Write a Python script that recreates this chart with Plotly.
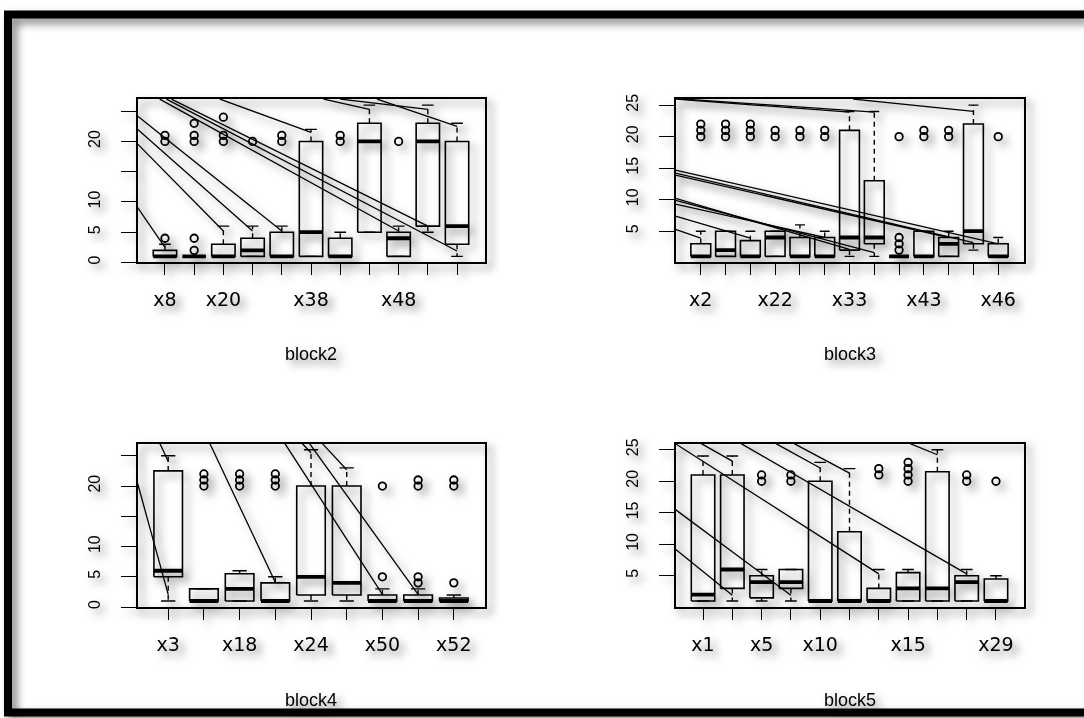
import plotly.graph_objects as go

# ---------------- block2 ----------------
b2_labels = ["x8", "", "x20", "", "", "x38", "", "", "x48", "", ""]
b2_lo  = [1, 1, 1, 1, 1, 1, 1, 5, 1, 5, 1]
b2_q1  = [1, 1, 1, 1, 1, 1, 1, 5, 1, 6, 3]
b2_med = [1, 1, 1, 2, 1, 5, 1, 20, 4, 20, 6]
b2_q3  = [2, 1, 3, 4, 5, 20, 4, 23, 5, 23, 20]
b2_hi  = [3, 1, 6, 6, 6, 22, 5, 26, 6, 26, 23]
b2_out = [[4, 20, 21], [2, 4, 20, 21, 23], [20, 21, 24], [20], [20, 21],
          [], [20, 21], [], [20], [], []]
b2_sx0 = [0.06, 0.06, 0.06, 0.06, 0.82, 1.05, 1.22, 2.88, 6.43, 7.0, 8.26]
b2_sy0 = [9.1, 19.6, 22.0, 24.2, 27.0, 27.0, 27.0, 27.0, 27.0, 27.0, 27.0]
b2_sx1 = [1.0, 3.0, 4.0, 5.0, 9.0, 11.0, 10.0, 6.0, 8.0, 10.0, 11.0]
b2_sy1 = [2.5, 5.2, 5.2, 5.2, 5.2, 1.9, 6.0, 21.5, 25.3, 25.3, 22.5]

# ---------------- block3 ----------------
b3_labels = ["x2", "", "", "x22", "", "", "x33", "", "", "x43", "", "", "x46"]
b3_lo  = [1, 1, 1, 1, 1, 1, 1, 1, 1, 1, 1, 2, 1]
b3_q1  = [1, 1, 1, 1, 1, 1, 2, 3, 1, 1, 1, 3, 1]
b3_med = [1, 2, 1, 4, 1, 1, 4, 4, 1, 1, 3, 5, 1]
b3_q3  = [3, 5, 3.5, 5, 4, 4, 21, 13, 1, 5, 4, 22, 3]
b3_hi  = [5, 5, 5, 5, 6, 5, 24, 24, 1, 5, 5, 25, 4]
b3_out = [[20, 21, 22], [20, 21, 22], [20, 21, 22], [20, 21], [20, 21], [20, 21],
          [], [], [2, 3, 4, 20], [20, 21], [20, 21], [], [20]]
b3_sx0 = [-0.02, -0.02, -0.02, -0.02, -0.02, -0.02, -0.02, -0.02, -0.02, 0.3, 7.15]
b3_sy0 = [5.3, 7.4, 9.3, 10.2, 9.9, 14.7, 14.2, 13.9, 25.96, 25.96, 25.96]
b3_sx1 = [1.0, 3.0, 6.0, 7.0, 8.0, 13.0, 12.0, 11.0, 7.0, 8.0, 12.0]
b3_sy1 = [3.9, 3.9, 4.0, 2.1, 1.6, 3.0, 3.2, 4.0, 23.9, 23.9, 24.0]

# ---------------- block4 ----------------
b4_labels = ["x3", "", "x18", "", "x24", "", "x50", "", "x52"]
b4_lo  = [1, 1, 1, 1, 1, 1, 1, 1, 1]
b4_q1  = [5, 1, 1, 1, 2, 2, 1, 1, 1]
b4_med = [6, 1, 3, 1, 5, 4, 1, 1, 1]
b4_q3  = [22.5, 3, 5.5, 4, 20, 20, 2, 2, 1.5]
b4_hi  = [25, 3, 6, 5, 26, 23, 3, 3, 2]
b4_out = [[], [20, 21, 22], [20, 21, 22], [20, 21, 22], [], [],
          [5, 20], [4, 5, 20, 21], [4, 20, 21]]
b4_sx0 = [0.77, 0.14, 2.17, 4.27, 4.76, 4.96, 5.32]
b4_sy0 = [27.0, 20.5, 27.0, 27.0, 27.0, 27.0, 27.0]
b4_sx1 = [1.0, 1.0, 4.0, 7.0, 5.0, 8.0, 6.0]
b4_sy1 = [24.1, 2.1, 4.1, 2.1, 25.5, 2.1, 22.7]

# ---------------- block5 ----------------
b5_labels = ["x1", "", "x5", "", "x10", "", "", "x15", "", "", "x29"]
b5_lo  = [1, 1, 1, 1, 1, 1, 1, 1, 1, 1, 1]
b5_q1  = [1, 3, 1.5, 3, 1, 1, 1, 1, 1, 1, 1]
b5_med = [2, 6, 4, 4, 1, 1, 1, 3, 3, 4, 1]
b5_q3  = [21, 21, 5, 6, 20, 12, 3, 5.5, 21.5, 5, 4.5]
b5_hi  = [24, 24, 6, 6, 23, 22, 6, 6, 25, 6, 5]
b5_out = [[], [], [20, 21], [20, 21], [], [], [21, 22], [20, 21, 22, 23],
          [], [20, 21], [20]]
b5_sx0 = [0.06, 0.06, 0.06, 0.94, 2.3, 3.49, 4.11, 8.07]
b5_sy0 = [9.2, 15.5, 25.96, 25.96, 25.96, 25.96, 25.96, 25.96]
b5_sx1 = [2.0, 4.0, 7.0, 2.0, 10.0, 5.0, 6.0, 9.0]
b5_sy1 = [1.9, 1.9, 5.3, 23.2, 5.3, 22.1, 21.3, 24.2]

W, H = 1084, 718
HALF = 0.4    # half box width
CAP = 0.2     # half staple width

panels = [
    dict(name="block2", labels=b2_labels, lo=b2_lo, q1=b2_q1, med=b2_med, q3=b2_q3, hi=b2_hi,
         out=b2_out, sx0=b2_sx0, sy0=b2_sy0, sx1=b2_sx1, sy1=b2_sy1,
         yr=[0, 27], yt=[0, 5, 10, 15, 20, 25], ytt=["0", "5", "10", "", "20", ""],
         px=(137.5, 484.5), py=(95, 260), ty=352),
    dict(name="block3", labels=b3_labels, lo=b3_lo, q1=b3_q1, med=b3_med, q3=b3_q3, hi=b3_hi,
         out=b3_out, sx0=b3_sx0, sy0=b3_sy0, sx1=b3_sx1, sy1=b3_sy1,
         yr=[0.04, 25.96], yt=[5, 10, 15, 20, 25], ytt=["5", "10", "15", "20", "25"],
         px=(675.5, 1023.5), py=(95, 260), ty=352),
    dict(name="block4", labels=b4_labels, lo=b4_lo, q1=b4_q1, med=b4_med, q3=b4_q3, hi=b4_hi,
         out=b4_out, sx0=b4_sx0, sy0=b4_sy0, sx1=b4_sx1, sy1=b4_sy1,
         yr=[0, 27], yt=[0, 5, 10, 15, 20, 25], ytt=["0", "5", "10", "", "20", ""],
         px=(137.5, 484.5), py=(443, 608), ty=702),
    dict(name="block5", labels=b5_labels, lo=b5_lo, q1=b5_q1, med=b5_med, q3=b5_q3, hi=b5_hi,
         out=b5_out, sx0=b5_sx0, sy0=b5_sy0, sx1=b5_sx1, sy1=b5_sy1,
         yr=[0.04, 25.96], yt=[5, 10, 15, 20, 25], ytt=["5", "10", "15", "20", "25"],
         px=(675.5, 1023.5), py=(443, 608), ty=702),
]

fig = go.Figure()
layout = {}
annotations = []

for i, p in enumerate(panels, start=1):
    xa = "x" if i == 1 else f"x{i}"
    ya = "y" if i == 1 else f"y{i}"
    n = len(p["labels"])
    pos = list(range(1, n + 1))

    # box outlines
    bx, by = [], []
    for k, x in enumerate(pos):
        bx += [x - HALF, x + HALF, x + HALF, x - HALF, x - HALF, None]
        by += [p["q1"][k], p["q1"][k], p["q3"][k], p["q3"][k], p["q1"][k], None]
    fig.add_trace(go.Scatter(x=bx, y=by, mode="lines", xaxis=xa, yaxis=ya,
                             line=dict(color="black", width=1.6), hoverinfo="skip"))

    # dashed whiskers
    wx, wy = [], []
    for k, x in enumerate(pos):
        if p["hi"][k] > p["q3"][k]:
            wx += [x, x, None]
            wy += [p["q3"][k], p["hi"][k], None]
        if p["lo"][k] < p["q1"][k]:
            wx += [x, x, None]
            wy += [p["q1"][k], p["lo"][k], None]
    fig.add_trace(go.Scatter(x=wx, y=wy, mode="lines", xaxis=xa, yaxis=ya,
                             line=dict(color="black", width=1.4, dash="5px,4px"),
                             hoverinfo="skip"))

    # staples
    cx, cy = [], []
    for k, x in enumerate(pos):
        for v in (p["hi"][k], p["lo"][k]):
            cx += [x - CAP, x + CAP, None]
            cy += [v, v, None]
    fig.add_trace(go.Scatter(x=cx, y=cy, mode="lines", xaxis=xa, yaxis=ya,
                             line=dict(color="black", width=1.4), hoverinfo="skip"))

    # medians
    mx, my = [], []
    for k, x in enumerate(pos):
        mx += [x - HALF, x + HALF, None]
        my += [p["med"][k], p["med"][k], None]
    fig.add_trace(go.Scatter(x=mx, y=my, mode="lines", xaxis=xa, yaxis=ya,
                             line=dict(color="black", width=3.8), hoverinfo="skip"))

    # outliers
    ox, oy = [], []
    for k, x in enumerate(pos):
        for v in p["out"][k]:
            ox.append(x)
            oy.append(v)
    fig.add_trace(go.Scatter(x=ox, y=oy, mode="markers", xaxis=xa, yaxis=ya,
                             marker=dict(symbol="circle-open", size=7.5, color="black",
                                         line=dict(width=1.8, color="black")),
                             hoverinfo="skip"))

    # sloped segments
    sx, sy = [], []
    for a, b, c, d in zip(p["sx0"], p["sy0"], p["sx1"], p["sy1"]):
        sx += [a, c, None]
        sy += [b, d, None]
    fig.add_trace(go.Scatter(x=sx, y=sy, mode="lines", xaxis=xa, yaxis=ya,
                             line=dict(color="black", width=1.3), hoverinfo="skip"))

    pad = 0.04 * n
    xr = [0.5 - pad, n + 0.5 + pad]
    x0, x1 = p["px"]
    y0, y1 = p["py"]
    xkey = "xaxis" if i == 1 else f"xaxis{i}"
    ykey = "yaxis" if i == 1 else f"yaxis{i}"
    layout[xkey] = dict(
        domain=[x0 / W, x1 / W], range=xr, anchor=ya,
        tickmode="array", tickvals=pos, ticktext=p["labels"],
        ticks="outside", ticklen=11, tickwidth=1.4, tickcolor="black",
        showline=True, mirror=True, linecolor="black", linewidth=1.7,
        showgrid=False, zeroline=False, ticklabelstandoff=8,
        tickfont=dict(family="DejaVu Sans", size=19, color="black"),
    )
    layout[ykey] = dict(
        domain=[1 - y1 / H, 1 - y0 / H], range=p["yr"], anchor=xa,
        tickmode="array", tickvals=p["yt"], ticktext=p["ytt"],
        ticks="outside", ticklen=15, tickwidth=1.4, tickcolor="black",
        showline=True, mirror=True, linecolor="black", linewidth=1.7,
        showgrid=False, zeroline=False, tickangle=-90, ticklabelstandoff=14,
        tickfont=dict(family="Liberation Sans", size=16, color="black"),
    )
    annotations.append(dict(
        text=p["name"], xref="paper", yref="paper",
        x=(x0 + x1) / 2 / W, y=1 - p["ty"] / H, xanchor="center", yanchor="middle",
        showarrow=False, font=dict(family="Liberation Sans", size=18, color="black"),
    ))

fig.update_layout(
    width=W, height=H, margin=dict(l=0, r=0, t=0, b=0),
    paper_bgcolor="rgba(0,0,0,0)", plot_bgcolor="rgba(0,0,0,0)",
    showlegend=False, annotations=annotations,
    shapes=[dict(type="rect", xref="paper", yref="paper",
                 x0=8 / W, x1=1.1, y0=1 - 714.5 / H, y1=1 - 9.5 / H,
                 line=dict(color="black", width=8), fillcolor="rgba(0,0,0,0)")],
    **layout,
)

shadow_js = (
    "var gd=document.getElementById('{plot_id}');"
    "gd.style.filter='drop-shadow(5px 5px 4px rgba(0,0,0,0.5))';"
)
fig.write_html("out.html", post_script=shadow_js)
